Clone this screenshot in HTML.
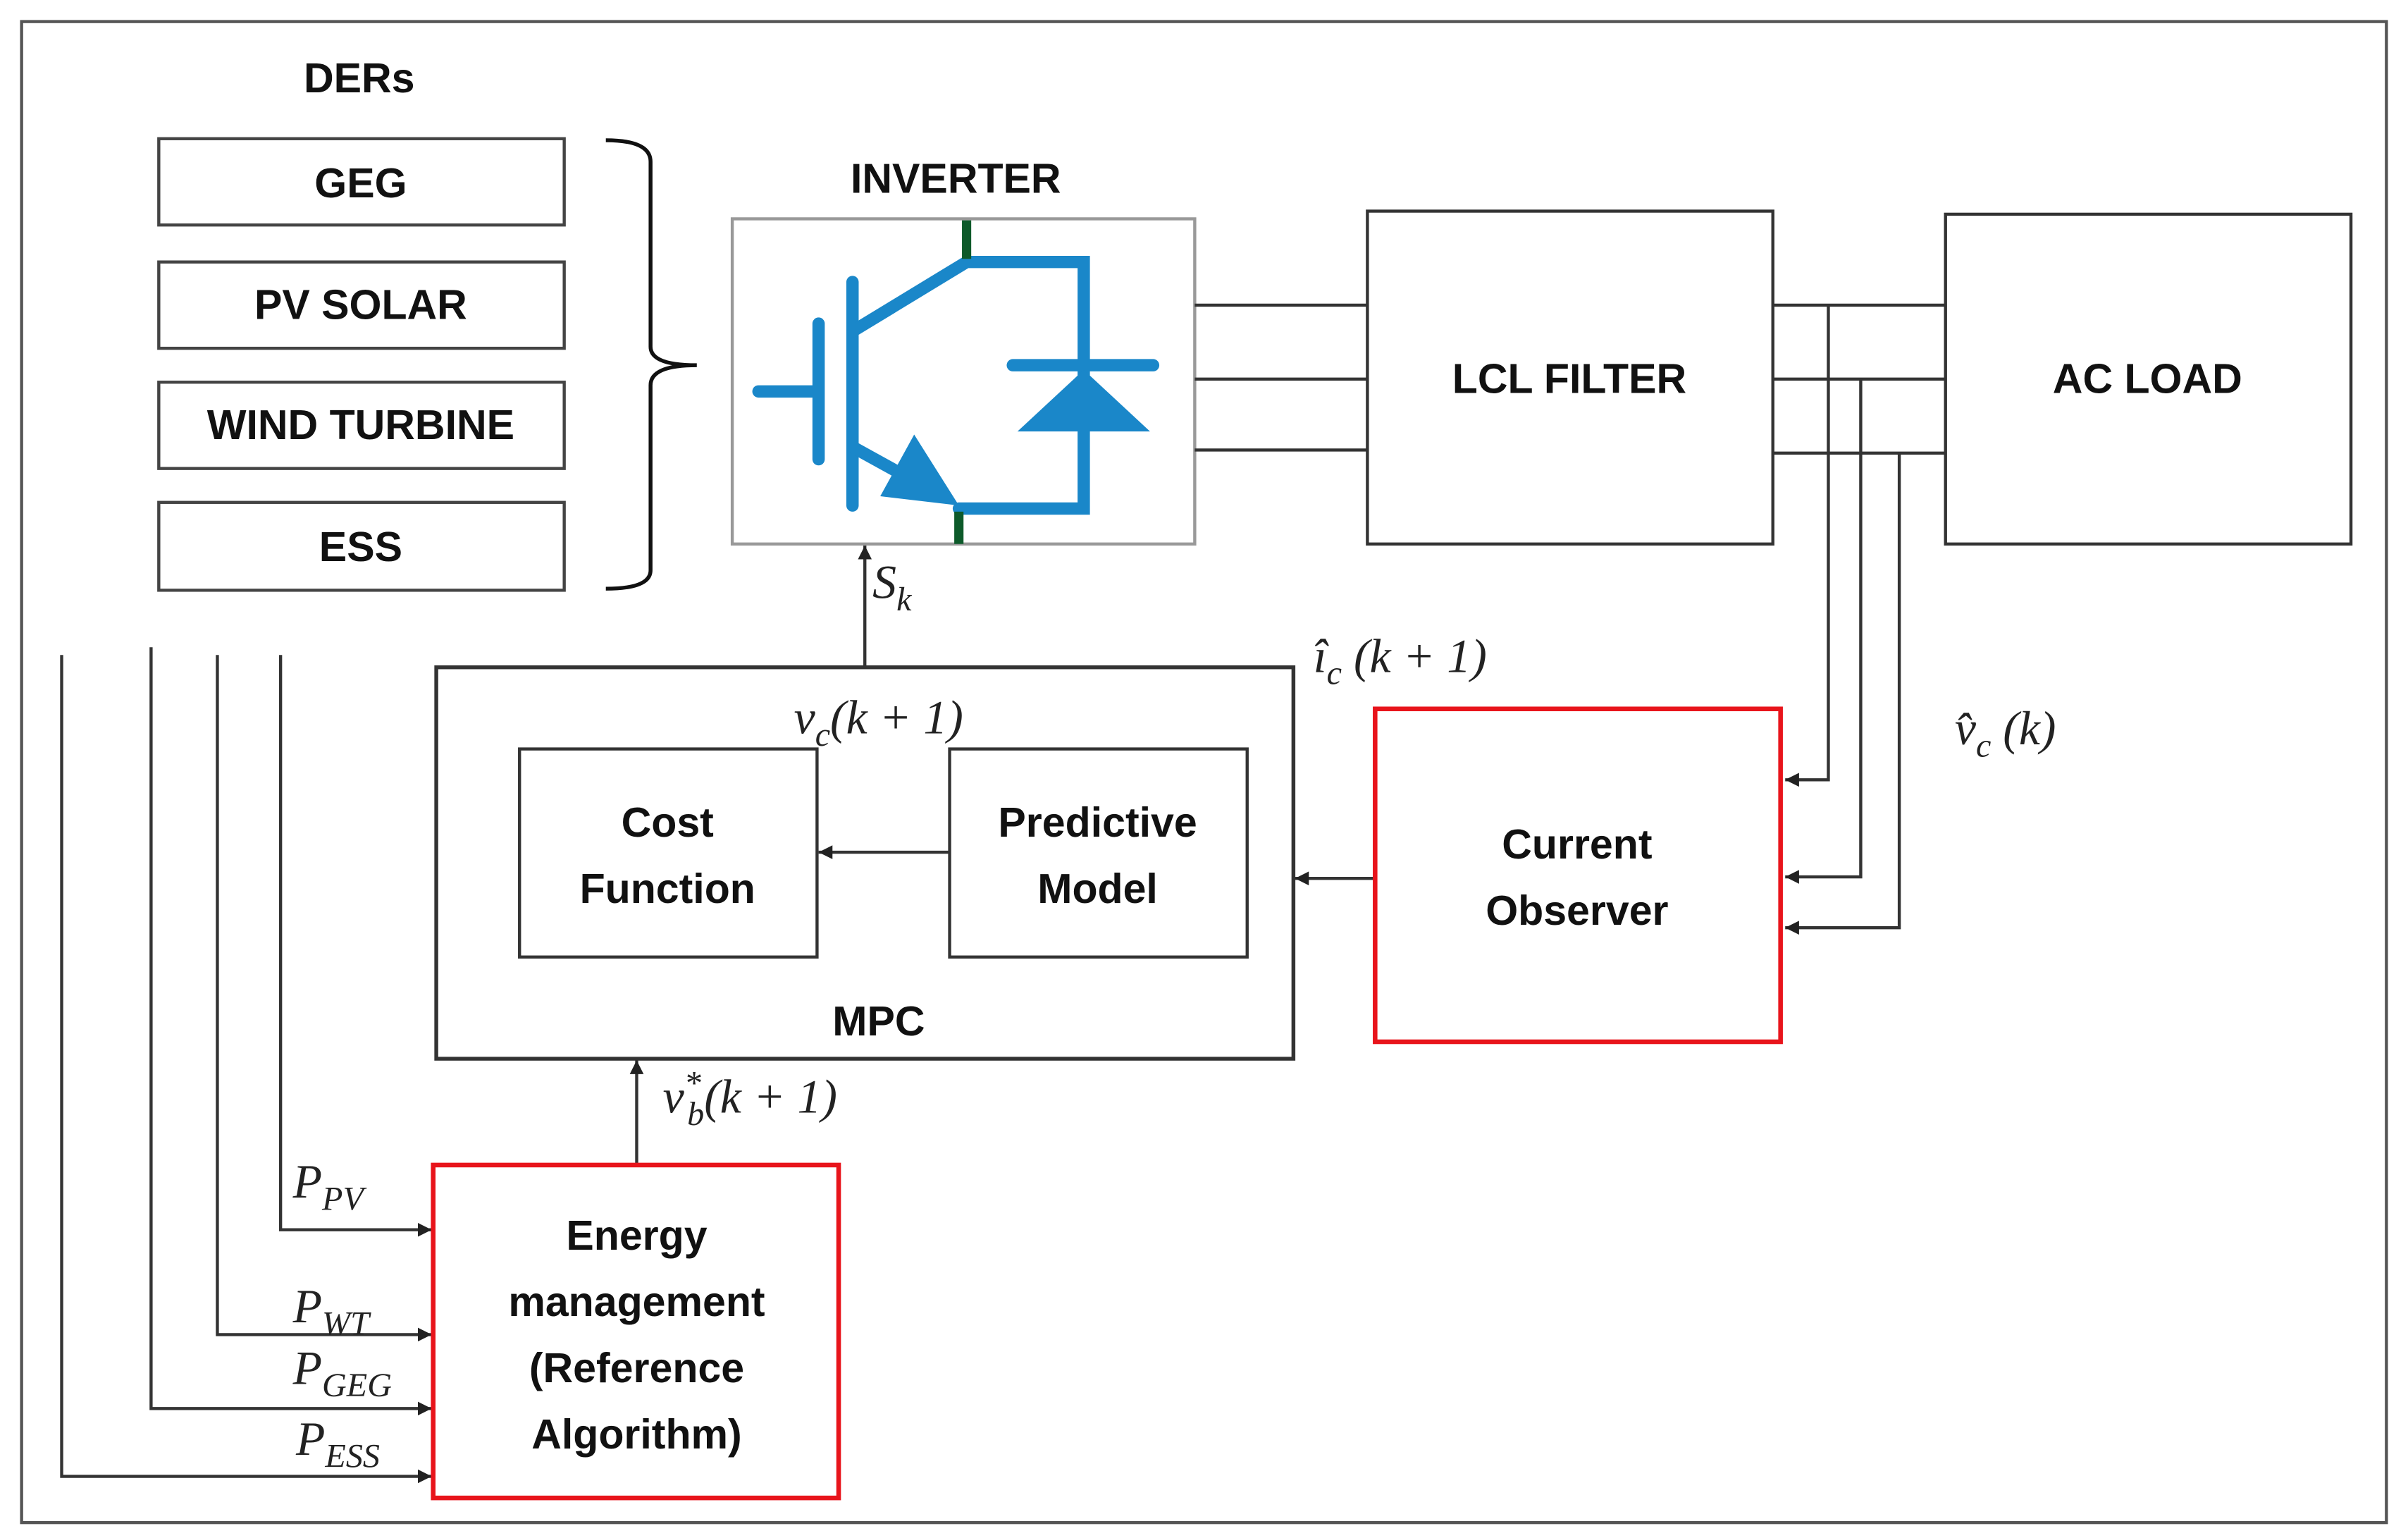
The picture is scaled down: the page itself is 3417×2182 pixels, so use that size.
<!DOCTYPE html>
<html><head><meta charset="utf-8"><style>
html,body{margin:0;padding:0;background:#fff;}
svg{display:block;}
.b{font-family:"Liberation Sans",sans-serif;font-weight:bold;font-size:27px;fill:#111;text-anchor:middle;}
.m{font-family:"Liberation Serif",serif;font-style:italic;font-size:31px;fill:#222;}
.s{font-size:22px;}
</style></head><body>
<svg width="3417" height="2182" viewBox="0 0 1562 998" preserveAspectRatio="none" xmlns="http://www.w3.org/2000/svg">
<defs>
<marker id="a" viewBox="0 0 10 10" refX="10" refY="5" markerWidth="9" markerHeight="9" markerUnits="userSpaceOnUse" orient="auto"><path d="M0,0 L10,5 L0,10 z" fill="#222"/></marker>
</defs>
<rect x="0" y="0" width="1562" height="998" fill="#fff"/>
<rect x="14" y="14" width="1534" height="974" fill="none" stroke="#555" stroke-width="2"/>
<text class="b" x="233" y="60">DERs</text>
<g fill="#fff" stroke="#444" stroke-width="2">
<rect x="103" y="90" width="263" height="56"/>
<rect x="103" y="170" width="263" height="56"/>
<rect x="103" y="248" width="263" height="56"/>
<rect x="103" y="326" width="263" height="57"/>
</g>
<text class="b" x="234" y="128">GEG</text>
<text class="b" x="234" y="207">PV SOLAR</text>
<text class="b" x="234" y="285">WIND TURBINE</text>
<text class="b" x="234" y="364">ESS</text>
<path d="M393,91 Q422,91 422,105 L422,225 Q422,237 452,237 Q422,237 422,250 L422,370 Q422,382 393,382" fill="none" stroke="#111" stroke-width="2.5"/>
<text class="b" x="620" y="125">INVERTER</text>
<rect x="475" y="142" width="300" height="211" fill="#fff" stroke="#999" stroke-width="2"/>
<g stroke="#1a87c9" stroke-width="8" stroke-linecap="round" fill="none">
<line x1="492" y1="254" x2="528" y2="254"/>
<line x1="531" y1="210" x2="531" y2="298"/>
<line x1="553" y1="183" x2="553" y2="328"/>
<polyline points="553,215 627,170 703,170 703,330 622,330"/>
<line x1="553" y1="290" x2="600" y2="316"/>
<line x1="657" y1="237" x2="748" y2="237"/>
</g>
<path d="M622,328 L571,322 L593,282 z" fill="#1a87c9"/>
<path d="M660,280 L746,280 L703,240 z" fill="#1a87c9"/>
<line x1="627" y1="143" x2="627" y2="168" stroke="#0d5a2a" stroke-width="6"/>
<line x1="622" y1="332" x2="622" y2="353" stroke="#0d5a2a" stroke-width="6"/>
<g stroke="#333" stroke-width="2" fill="none">
<line x1="775" y1="198" x2="887" y2="198"/>
<line x1="775" y1="246" x2="887" y2="246"/>
<line x1="775" y1="292" x2="887" y2="292"/>
<line x1="1150" y1="198" x2="1262" y2="198"/>
<line x1="1150" y1="246" x2="1262" y2="246"/>
<line x1="1150" y1="294" x2="1262" y2="294"/>
<rect x="887" y="137" width="263" height="216" fill="#fff"/>
<rect x="1262" y="139" width="263" height="214" fill="#fff"/>
<polyline points="1186,198 1186,506 1158,506" marker-end="url(#a)"/>
<polyline points="1207,246 1207,569 1158,569" marker-end="url(#a)"/>
<polyline points="1232,294 1232,602 1158,602" marker-end="url(#a)"/>
<line x1="892" y1="570" x2="840" y2="570" marker-end="url(#a)"/>
<rect x="283" y="433" width="556" height="254" stroke-width="2.5"/>
<rect x="337" y="486" width="193" height="135"/>
<rect x="616" y="486" width="193" height="135"/>
<line x1="616" y1="553" x2="531" y2="553" marker-end="url(#a)"/>
<line x1="561" y1="433" x2="561" y2="354" marker-end="url(#a)"/>
<line x1="413" y1="756" x2="413" y2="688" marker-end="url(#a)"/>
<polyline points="182,425 182,798 280,798" marker-end="url(#a)"/>
<polyline points="141,425 141,866 280,866" marker-end="url(#a)"/>
<polyline points="98,420 98,914 280,914" marker-end="url(#a)"/>
<polyline points="40,425 40,958 280,958" marker-end="url(#a)"/>
</g>
<rect x="892" y="460" width="263" height="216" fill="none" stroke="#e8141b" stroke-width="3"/>
<rect x="281" y="756" width="263" height="216" fill="none" stroke="#e8141b" stroke-width="3"/>
<text class="b" x="1018" y="255">LCL FILTER</text>
<text class="b" x="1393" y="255">AC LOAD</text>
<text class="b" x="1023" y="557">Current</text>
<text class="b" x="1023" y="600">Observer</text>
<text class="b" x="433" y="543">Cost</text>
<text class="b" x="433" y="586">Function</text>
<text class="b" x="712" y="543">Predictive</text>
<text class="b" x="712" y="586">Model</text>
<text class="b" x="570" y="672">MPC</text>
<text class="b" x="413" y="811">Energy</text>
<text class="b" x="413" y="854">management</text>
<text class="b" x="413" y="897">(Reference</text>
<text class="b" x="413" y="940">Algorithm)</text>
<text class="m" x="566" y="388">S<tspan class="s" dy="8">k</tspan></text>
<text class="m" x="515" y="476">v<tspan class="s" dy="8">c</tspan><tspan dy="-8">(k + 1)</tspan></text>
<text class="m" x="852" y="436">î<tspan class="s" dy="8">c</tspan><tspan dy="-8"> (k + 1)</tspan></text>
<text class="m" x="1268" y="483">v̂<tspan class="s" dy="8">c</tspan><tspan dy="-8"> (k)</tspan></text>
<text class="m" x="430" y="722">v<tspan class="s" dy="-12">*</tspan><tspan class="s" dx="-9" dy="20">b</tspan><tspan dy="-8">(k + 1)</tspan></text>
<text class="m" x="190" y="777">P<tspan class="s" dy="8">PV</tspan></text>
<text class="m" x="190" y="858">P<tspan class="s" dy="8">WT</tspan></text>
<text class="m" x="190" y="898">P<tspan class="s" dy="8">GEG</tspan></text>
<text class="m" x="192" y="944">P<tspan class="s" dy="8">ESS</tspan></text>
</svg>
</body></html>
